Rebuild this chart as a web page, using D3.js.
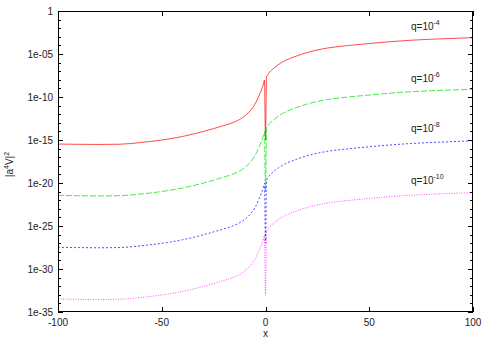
<!DOCTYPE html>
<html>
<head>
<meta charset="utf-8">
<script src="https://cdn.jsdelivr.net/npm/d3@7"></script>
<style>
  body { margin: 0; background: #fff; }
  text { font-family: "Liberation Sans", Arial, sans-serif; fill: #222; }
</style>
</head>
<body>
<div id="chart"></div>
<script>
// x sample positions (shared by all curves)
const xs = [-100, -90, -80, -70, -60, -50, -40, -30, -20, -15, -10, -7, -5, -3, -2, -1, -0.5, 0,
            0.5, 1, 2, 3, 5, 7, 10, 15, 20, 30, 40, 50, 60, 70, 80, 90, 100];

// log10 of |a^4 V|^2
const q4 = [-15.47, -15.50, -15.52, -15.49, -15.29, -15.00, -14.59, -14.01, -13.31, -12.91, -12.21, -11.51, -10.81, -9.77, -9.19, -8.49, -8.02, -15.0,
            -7.64, -7.44, -7.09, -6.86, -6.45, -6.10, -5.70, -5.23, -4.83, -4.30, -4.01, -3.78, -3.57, -3.40, -3.28, -3.19, -3.10];
const q6 = [-21.43, -21.48, -21.50, -21.47, -21.28, -20.99, -20.58, -20.01, -19.30, -18.90, -18.20, -17.50, -16.80, -15.76, -15.18, -14.48, -13.98, -21.0,
            -13.62, -13.43, -13.08, -12.85, -12.44, -12.09, -11.69, -11.22, -10.82, -10.29, -10.00, -9.77, -9.56, -9.39, -9.27, -9.18, -9.10];
const q8 = [-27.48, -27.51, -27.53, -27.50, -27.30, -27.01, -26.60, -26.02, -25.32, -24.92, -24.22, -23.52, -22.82, -21.78, -21.20, -20.50, -20.03, -27.0,
            -19.65, -19.45, -19.10, -18.87, -18.46, -18.11, -17.71, -17.24, -16.84, -16.31, -16.02, -15.79, -15.58, -15.41, -15.29, -15.19, -15.08];
const q10 = [-33.49, -33.52, -33.54, -33.51, -33.31, -33.02, -32.61, -32.03, -31.33, -30.93, -30.23, -29.53, -28.83, -27.79, -27.21, -26.51, -26.05, -33.05,
             -25.66, -25.46, -25.11, -24.88, -24.47, -24.12, -23.72, -23.25, -22.85, -22.32, -22.03, -21.80, -21.59, -21.42, -21.30, -21.20, -21.13];

const seriesNames = ["-4", "-6", "-8", "-10"];
const seriesVals = [q4, q6, q8, q10];
const seriesColors = ["#ff0000", "#00e000", "#0000ff", "#ff00ff"];
const seriesDash = [null, "6,2", "2,2", "1,1.5"];
const labelY = [-2.2, -8.2, -14.1, -20.1];

const xTicks = [-100, -50, 0, 50, 100];
const yTicks = [1, 1e-5, 1e-10, 1e-15, 1e-20, 1e-25, 1e-30, 1e-35];
const yTickLabels = ["1", "1e-05", "1e-10", "1e-15", "1e-20", "1e-25", "1e-30", "1e-35"];

const W = 491, H = 343;
const pl = 58, pr = 473, pt = 11, pb = 312;

const svg = d3.select("#chart").append("svg")
  .attr("width", W).attr("height", H);

const x = d3.scaleLinear().domain([-100, 100]).range([pl, pr]);
const y = d3.scaleLog().domain([1e-35, 1]).range([pb, pt]);

// minor ticks every decade
const decades = d3.range(0, -36, -1);

const tg = svg.append("g").attr("stroke", "#000").attr("stroke-width", 1);
decades.forEach(e => {
  const len = (e % 5 === 0) ? 5 : 3;
  const py = Math.round(y(Math.pow(10, e))) + 0.5;
  tg.append("line").attr("x1", pl).attr("x2", pl + len).attr("y1", py).attr("y2", py);
  tg.append("line").attr("x1", pr - len).attr("x2", pr).attr("y1", py).attr("y2", py);
});
xTicks.forEach(v => {
  const px = Math.round(x(v)) + 0.5;
  tg.append("line").attr("x1", px).attr("x2", px).attr("y1", pb).attr("y2", pb - 5);
  tg.append("line").attr("x1", px).attr("x2", px).attr("y1", pt).attr("y2", pt + 5);
});

// tick labels
yTicks.forEach((v, i) => {
  svg.append("text").attr("x", pl - 5).attr("y", y(v) + 3.5)
    .attr("text-anchor", "end").attr("font-size", 10).text(yTickLabels[i]);
});
xTicks.forEach(v => {
  svg.append("text").attr("x", x(v)).attr("y", pb + 14)
    .attr("text-anchor", "middle").attr("font-size", 10).text(v);
});

// axis titles
svg.append("text").attr("x", x(0)).attr("y", 337)
  .attr("text-anchor", "middle").attr("font-size", 10).text("x");
const yl = svg.append("text").attr("transform", "translate(13," + ((pt + pb) / 2 + 3) + ") rotate(-90)")
  .attr("text-anchor", "middle").attr("font-size", 10);
yl.append("tspan").text("|a");
yl.append("tspan").attr("font-size", 7).attr("dy", -4).text("4");
yl.append("tspan").attr("dy", 4).text("V|");
yl.append("tspan").attr("font-size", 7).attr("dy", -4).text("2");

// curves
const line = d3.line().curve(d3.curveMonotoneX)
  .x(d => x(d[0])).y(d => y(Math.pow(10, d[1])));
seriesVals.forEach((vals, i) => {
  const pts = xs.map((xv, k) => [xv, vals[k]]);
  svg.append("path").attr("d", line(pts))
    .attr("fill", "none").attr("stroke", seriesColors[i]).attr("stroke-width", 1)
    .attr("stroke-opacity", 0.7)
    .attr("stroke-dasharray", seriesDash[i]);

  const t = svg.append("text").attr("x", 411).attr("y", y(Math.pow(10, labelY[i])))
    .attr("font-size", 10);
  t.append("tspan").text("q=10");
  t.append("tspan").attr("font-size", 7).attr("dy", -5).text(seriesNames[i]);
});

// frame
svg.append("rect").attr("x", pl + 0.5).attr("y", pt + 0.5)
  .attr("width", pr - pl - 1).attr("height", pb - pt - 1)
  .attr("fill", "none").attr("stroke", "#000").attr("stroke-width", 1);
</script>
</body>
</html>
